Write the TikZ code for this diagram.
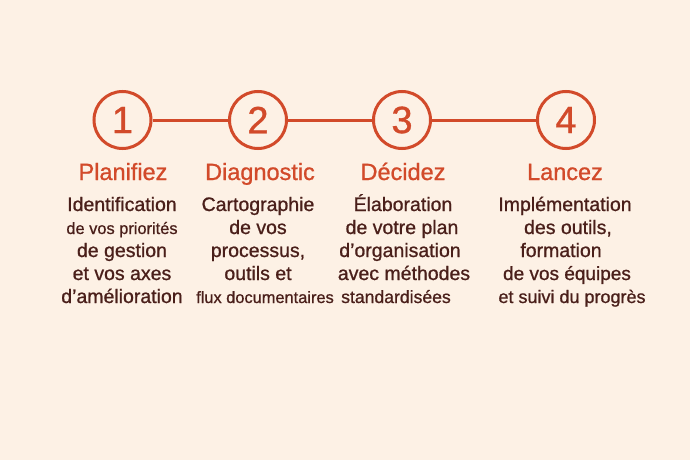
\documentclass[tikz,border=0pt]{standalone}
\usepackage{fontspec}
\setmainfont{Liberation Sans}[FakeBold=0.9]
\definecolor{bg}{HTML}{FDF1E5}
\definecolor{accent}{HTML}{D24A2A}
\definecolor{bodytxt}{HTML}{4A1F1A}
\begin{document}
\begin{tikzpicture}[x=1pt,y=-1pt,
  stepcircle/.style={circle,draw=accent,line width=3pt,minimum size=57pt,inner sep=0pt,text=accent,font=\fontsize{38}{38}\selectfont},
  link/.style={draw=accent,line width=3pt},
  title/.style={text=accent,font=\fontsize{23.5}{23.5}\selectfont,anchor=base},
  bodyline/.style={text=bodytxt,font=\fontsize{19.5}{19.5}\selectfont,anchor=base},
  smallline/.style={text=bodytxt,font=\fontsize{16.4}{16.4}\selectfont,anchor=base}]
\fill[bg] (0,0) rectangle (690,460);
\useasboundingbox (0,0) rectangle (690,460);
\node[stepcircle] (c1) at (122.5,120) {1};
\node[stepcircle] (c2) at (258,120) {2};
\node[stepcircle] (c3) at (402,120) {3};
\node[stepcircle] (c4) at (566,120) {4};
\draw[link] (c1) -- (c2);
\draw[link] (c2) -- (c3);
\draw[link] (c3) -- (c4);
\node[title] (t1) at (123,180) {Planifiez};
\node[title] (t2) at (260,180) {Diagnostic};
\node[title] (t3) at (403,180) {Décidez};
\node[title] (t4) at (565,180) {Lancez};
% column 1
\node[bodyline] (a1) at (122,211) {Identification};
\node[smallline] (a2) at (122,234) {de vos priorités};
\node[bodyline] (a3) at (122,257) {de gestion};
\node[bodyline] (a4) at (122,280) {et vos axes};
\node[bodyline] (a5) at (122,303) {d’amélioration};
% column 2
\node[bodyline] (b1) at (258,211) {Cartographie};
\node[bodyline] (b2) at (258,234) {de vos};
\node[bodyline] (b3) at (258,257) {processus,};
\node[bodyline] (b4) at (258,280) {outils et};
\node[smallline] (b5) at (265,303) {flux documentaires};
% column 3
\node[bodyline] (d1) at (403,211) {Élaboration};
\node[bodyline] (d2) at (402,234) {de votre plan};
\node[bodyline] (d3) at (400,257) {d’organisation};
\node[bodyline] (d4) at (404,280) {avec méthodes};
\node[bodyline,font=\fontsize{17.6}{17.6}\selectfont] (d5) at (396,303) {standardisées};
% column 4
\node[bodyline] (e1) at (565,211) {Implémentation};
\node[bodyline] (e2) at (568,234) {des outils,};
\node[bodyline] (e3) at (561,257) {formation};
\node[bodyline,font=\fontsize{19}{19}\selectfont] (e4) at (567,280) {de vos équipes};
\node[bodyline,font=\fontsize{18}{18}\selectfont] (e5) at (572,303) {et suivi du progrès};
\end{tikzpicture}
\end{document}
